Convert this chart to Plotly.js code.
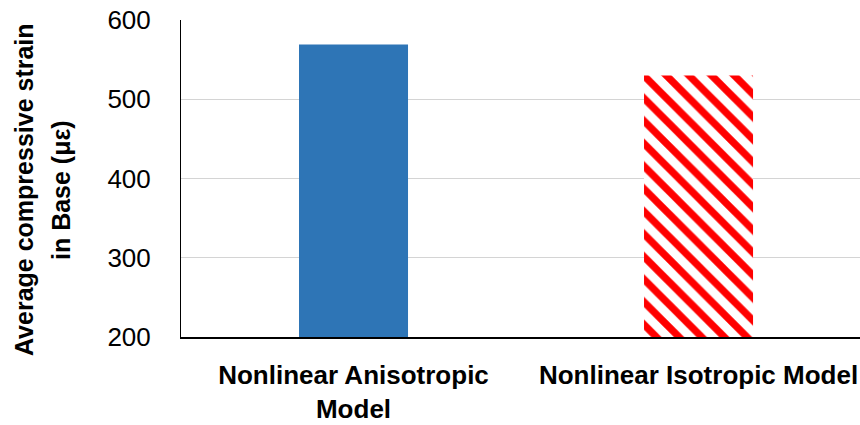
<!DOCTYPE html>
<html>
<head>
<meta charset="utf-8">
<script src="https://cdn.plot.ly/plotly-3.0.1.min.js"></script>
<style>html,body{margin:0;padding:0;background:#fff;}#chart{width:860px;height:425px;}</style>
</head>
<body>
<div id="chart"></div>
<script>
var categories = ["Nonlinear Anisotropic<br>Model", "Nonlinear Isotropic Model"];
var anisoValues = [569, null];
var isoValues = [null, 530];
var yTickValues = [200, 300, 400, 500, 600];
var yTitleLines = ["Average compressive strain", "in Base (\u03bc\u03b5)"];

var FONT = "Liberation Sans, Arial, sans-serif";

var traces = [
  {
    type: "bar",
    x: categories,
    y: anisoValues,
    marker: {color: "#2e75b6", line: {width: 0}},
    hoverinfo: "x+y"
  },
  {
    type: "bar",
    x: categories,
    y: isoValues,
    marker: {
      color: "#ff0000",
      line: {width: 0},
      pattern: {shape: "\\", fgcolor: "#ff0000", bgcolor: "#ffffff", size: 16, solidity: 0.45}
    },
    hoverinfo: "x+y"
  }
];

var layout = {
  width: 860,
  height: 425,
  margin: {l: 181, r: 0, t: 20, b: 88, pad: 0},
  paper_bgcolor: "#ffffff",
  plot_bgcolor: "#ffffff",
  showlegend: false,
  barmode: "overlay",
  bargap: 0.684,
  font: {family: FONT, color: "#000000", size: 25},
  xaxis: {
    type: "category",
    range: [-0.5, 1.468],
    showgrid: false,
    showline: true,
    linecolor: "#000000",
    linewidth: 1.5,
    ticks: "",
    ticklabelstandoff: 14,
    tickfont: {family: FONT, size: 26, color: "#000000", weight: "bold"},
    fixedrange: true
  },
  yaxis: {
    range: [200, 600],
    tickvals: yTickValues,
    showgrid: true,
    gridcolor: "#d4d4d4",
    gridwidth: 1,
    showline: true,
    linecolor: "#000000",
    linewidth: 1,
    zeroline: false,
    ticks: "",
    ticklabelstandoff: 24,
    tickfont: {family: FONT, size: 26, color: "#000000"},
    fixedrange: true
  },
  annotations: [
    {
      text: "<b>" + yTitleLines[0] + "</b>",
      xref: "paper", yref: "paper",
      x: -0.2312, y: 0.4637,
      xanchor: "center", yanchor: "middle",
      textangle: -90, showarrow: false,
      font: {family: FONT, size: 25, color: "#000000"}
    },
    {
      text: "<b>" + yTitleLines[1] + "</b>",
      xref: "paper", yref: "paper",
      x: -0.1767, y: 0.4637,
      xanchor: "center", yanchor: "middle",
      textangle: -90, showarrow: false,
      font: {family: FONT, size: 25, color: "#000000"}
    }
  ]
};

Plotly.newPlot("chart", traces, layout, {displayModeBar: false, staticPlot: true});
</script>
</body>
</html>
